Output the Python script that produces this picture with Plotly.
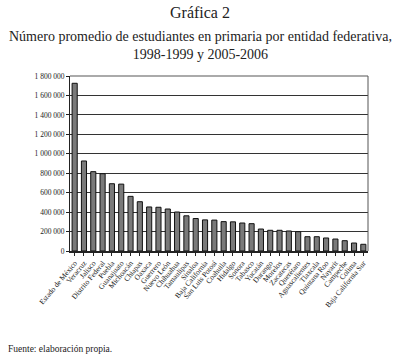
import plotly.graph_objects as go

estados = ["Estado de México", "Veracruz", "Jalisco", "Distrito Federal", "Puebla",
           "Guanajuato", "Michoacán", "Chiapas", "Oaxaca", "Guerrero", "Nuevo León",
           "Chihuahua", "Tamaulipas", "Sinaloa", "Baja California", "San Luis Potosí",
           "Coahuila", "Hidalgo", "Sonora", "Tabasco", "Yucatán", "Durango", "Morelos",
           "Zacatecas", "Querétaro", "Aguascalientes", "Tlaxcala", "Quintana Roo",
           "Nayarit", "Campeche", "Colima", "Baja California Sur"]
estudiantes = [1725000, 926000, 816000, 795000, 692000, 688000, 562000, 507000,
               453000, 450000, 432000, 401000, 362000, 334000, 320000, 318000,
               302000, 300000, 288000, 281000, 226000, 213000, 213000, 206000,
               199000, 147000, 147000, 134000, 123000, 106000, 82000, 69000]
y_ticks = [0, 200000, 400000, 600000, 800000, 1000000, 1200000, 1400000, 1600000, 1800000]

FONT = "Liberation Serif"

fig = go.Figure()
fig.add_trace(go.Bar(
    x=estados, y=estudiantes,
    marker=dict(color="#7a7a7a", line=dict(color="#111111", width=1)),
    width=0.55,
))

fig.update_layout(
    width=400, height=359,
    margin=dict(l=70, r=32, t=76, b=108),
    paper_bgcolor="white", plot_bgcolor="white",
    showlegend=False,
    separators=". ",
    font=dict(family=FONT, color="#222"),
    bargap=0.4,
)
fig.update_yaxes(
    range=[0, 1800000], tickvals=y_ticks, tickformat=",d",
    tickfont=dict(size=7.5, family=FONT, color="#222"),
    showgrid=True, gridcolor="#333333", gridwidth=1,
    showline=True, linecolor="#222", linewidth=1,
    ticks="outside", ticklen=3, tickcolor="#222",
    zeroline=False,
)
fig.update_xaxes(
    tickangle=-50, tickfont=dict(size=7.5, family=FONT, color="#222"),
    showline=True, linecolor="#222", linewidth=1.5,
    ticks="outside", ticklen=3, tickcolor="#222",
)
# frame top/right
fig.add_shape(type="line", xref="paper", yref="paper", x0=0, x1=1, y0=1, y1=1,
              line=dict(color="#aaaaaa", width=2))
fig.add_shape(type="line", xref="paper", yref="paper", x0=1, x1=1, y0=0, y1=1,
              line=dict(color="#555555", width=1))

fig.add_annotation(text="Gráfica 2", xref="paper", yref="paper",
                   x=130/298, y=(251-13)/175, showarrow=False,
                   font=dict(size=16, family=FONT, color="#222"), xanchor="center", yanchor="middle")
fig.add_annotation(text="Número promedio de estudiantes en primaria por entidad federativa,<br>1998-1999 y 2005-2006",
                   xref="paper", yref="paper",
                   x=130/298, y=(251-45)/175, showarrow=False,
                   font=dict(size=14, family=FONT, color="#222"), xanchor="center", yanchor="middle")
fig.add_annotation(text="Fuente: elaboración propia.", xref="paper", yref="paper",
                   x=-64/298, y=(251-349)/175, showarrow=False,
                   font=dict(size=9.5, family=FONT, color="#222"), xanchor="left", yanchor="middle")

fig.write_html("out.html")
